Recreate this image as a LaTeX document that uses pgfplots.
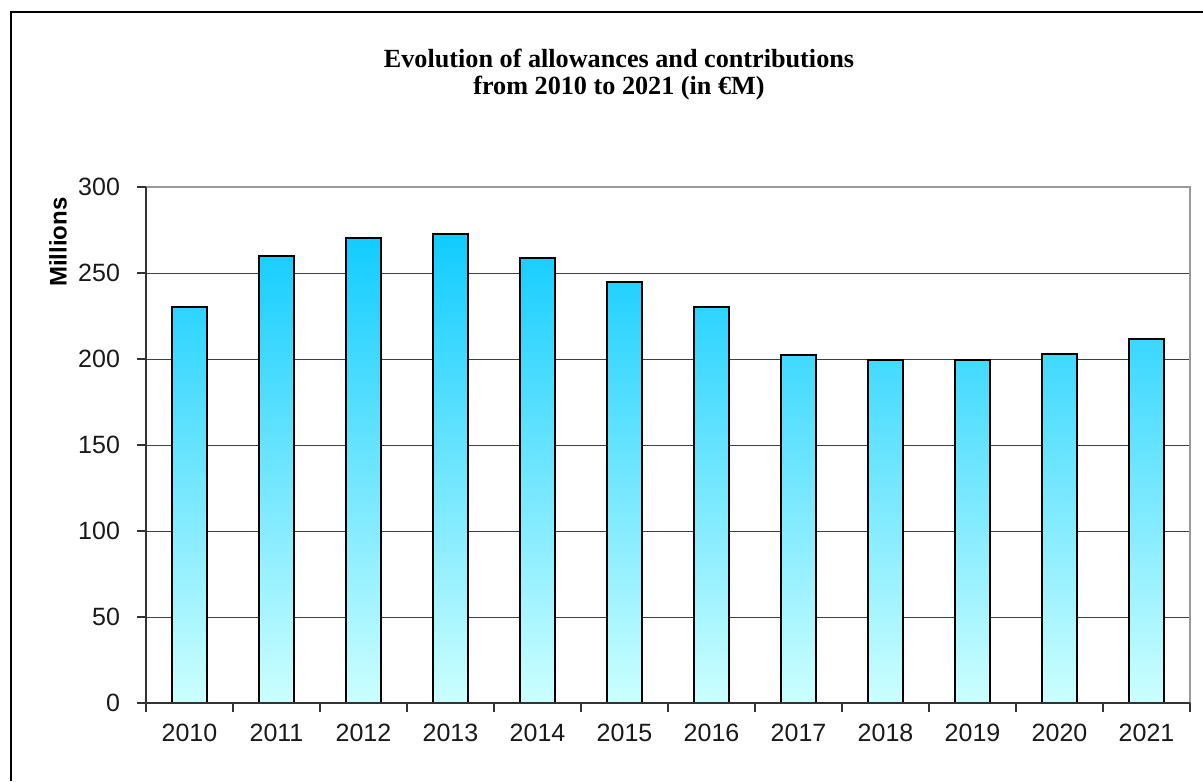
\documentclass[border=0pt]{standalone}
\usepackage{fontspec}
\setmainfont{Liberation Sans}
\newfontfamily\titlefont{Liberation Serif}
\usepackage{pgfplots}
\pgfplotsset{compat=1.18}

\definecolor{bartop}{RGB}{16,204,255}
\definecolor{barbottom}{RGB}{204,255,255}

\begin{document}
\begin{tikzpicture}[x=1pt,y=1pt]
\useasboundingbox (0,0) rectangle (601.5,390.5);
% outer frame (top and left edges)
\draw[black, line width=1pt] (5.5,0) -- (5.5,384.5) -- (601.5,384.5);
% title
\node[anchor=base, font=\titlefont\bfseries\fontsize{13.1}{15}\selectfont] at (309.5,356.5)
  {Evolution of allowances and contributions};
\node[anchor=base, font=\titlefont\bfseries\fontsize{13.1}{15}\selectfont] at (309.5,343)
  {from 2010 to 2021 (in €M)};
\begin{axis}[
  at={(73pt,39pt)}, anchor=south west,
  scale only axis, width=522pt, height=258pt,
  xmin=-0.5, xmax=11.5, ymin=0, ymax=300,
  xtick={0,...,11},
  xticklabels={2010,2011,2012,2013,2014,2015,2016,2017,2018,2019,2020,2021},
  major x tick style={draw=none},
  minor xtick={-0.5,0.5,...,11.5},
  minor x tick style={black!80, line width=0.6pt},
  ytick={0,50,...,300},
  y tick style={black!80, line width=0.6pt},
  xtick pos=bottom, ytick pos=left,
  tick align=outside,
  major tick length=4.5pt, minor tick length=4.5pt,
  ymajorgrids,
  grid style={black!75, line width=0.5pt},
  axis line style={draw=none},
  tick label style={font=\fontsize{12.5}{14}\selectfont, text=black!90},
  xticklabel style={yshift=-2.5pt},
  yticklabel style={xshift=-5pt},
  /pgf/number format/assume math mode=true,
  ylabel={\bfseries Millions},
  ylabel style={font=\fontsize{12}{14}\selectfont,
    at={(axis description cs:-0.0843,0.893)}, anchor=center},
  clip=false,
]
\addplot[ybar, bar width=17.2pt, draw=black, line width=1pt,
  top color=bartop, bottom color=barbottom]
  coordinates {(0,230.0) (1,259.7) (2,270.3) (3,272.6) (4,259.0) (5,244.9)
               (6,230.1) (7,202.4) (8,199.4) (9,199.4) (10,203.1) (11,211.5)};
\draw[gray!80, line width=0.8pt] (rel axis cs:0,1) -- (rel axis cs:1,1) -- (rel axis cs:1,0);
\draw[black!80, line width=0.8pt] (rel axis cs:0,1) -- (rel axis cs:0,0) -- (rel axis cs:1,0);
\end{axis}
\end{tikzpicture}
\end{document}
